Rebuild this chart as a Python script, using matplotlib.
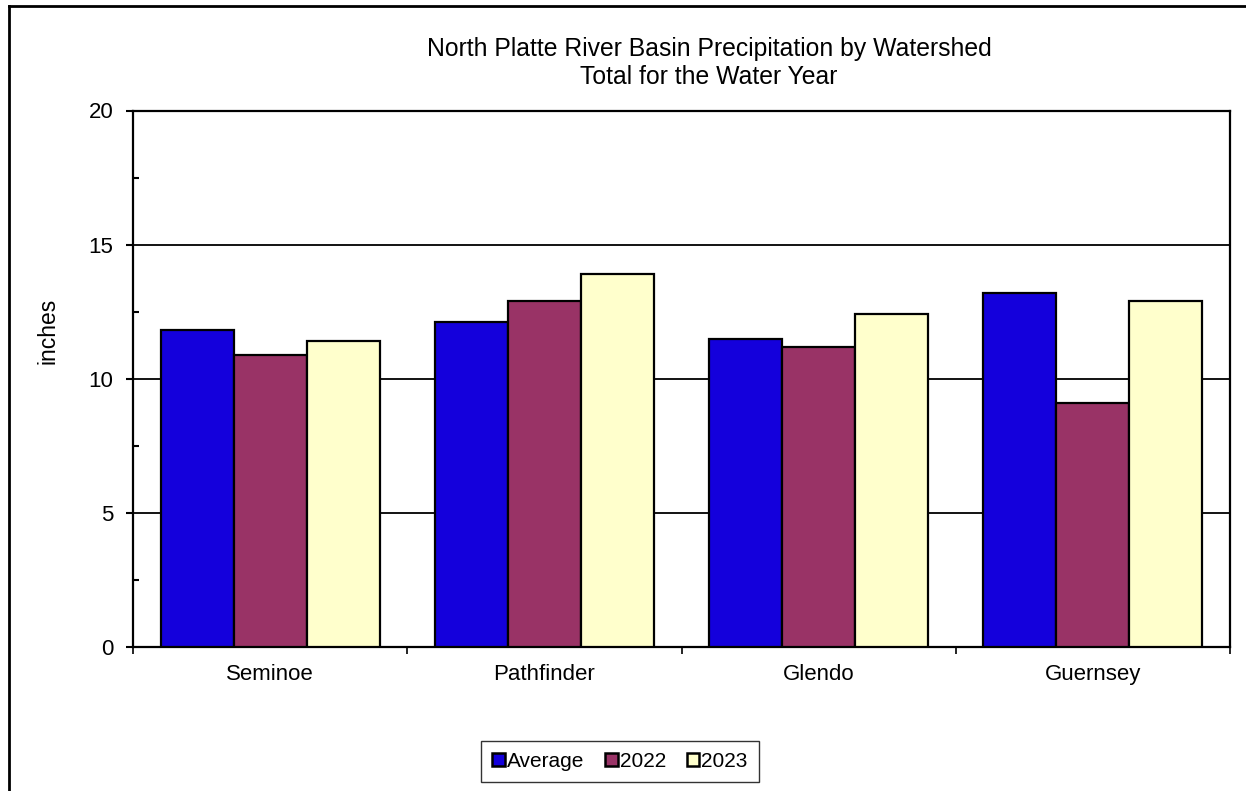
import matplotlib
matplotlib.use("Agg")
import matplotlib.pyplot as plt
import numpy as np
from matplotlib.lines import Line2D
from matplotlib.patches import Patch

plt.rcParams['font.family'] = ['Liberation Sans', 'DejaVu Sans']

categories = ["Seminoe", "Pathfinder", "Glendo", "Guernsey"]
series_names = ["Average", "2022", "2023"]
avg_vals = [11.8, 12.1, 11.5, 13.2]
y2022_vals = [10.9, 12.9, 11.2, 9.1]
y2023_vals = [11.4, 13.9, 12.4, 12.9]
y_ticks = [0, 5, 10, 15, 20]

colors = ["#1400DC", "#993366", "#FFFFCC"]

W, H = 1246, 791
fig = plt.figure(figsize=(W / 100, H / 100), dpi=100)
ax = fig.add_axes([133 / W, 1 - 647 / H, 1097 / W, 536.5 / H])

x = np.arange(len(categories))
bw = 0.266
for i, (vals, c, name) in enumerate(zip([avg_vals, y2022_vals, y2023_vals], colors, series_names)):
    ax.bar(x + (i - 1) * bw, vals, width=bw, color=c, edgecolor="black",
           linewidth=1.6, label=name, zorder=3)

ax.set_xlim(-0.5, len(categories) - 0.5)
ax.set_ylim(0, 20)
ax.set_yticks(y_ticks)
ax.set_yticklabels([str(v) for v in y_ticks])
ax.set_yticks([2.5, 7.5, 12.5, 17.5], minor=True)
ax.tick_params(axis="y", which="major", direction="out", length=5, width=1.5,
               labelsize=16, pad=9)
ax.tick_params(axis="y", which="minor", direction="in", length=4, width=1.5)

ax.set_xticks(np.arange(-0.5, len(categories), 1.0))
ax.set_xticklabels([])
ax.set_xticks(x, minor=True)
ax.set_xticklabels(categories, minor=True)
ax.tick_params(axis="x", which="major", direction="out", length=5, width=1.2)
ax.tick_params(axis="x", which="minor", length=0, labelsize=16, pad=12)

ax.grid(axis="y", which="major", color="black", linewidth=1.3, zorder=0)
for s in ax.spines.values():
    s.set_linewidth(1.6)
    s.set_color("black")

fig.text(48 / W, 1 - 331 / H, "inches", rotation=90, ha="center", va="center", fontsize=16.5)

fig.text(709 / W, 1 - 56 / H, "North Platte River Basin Precipitation by Watershed",
         ha="center", va="baseline", fontsize=17.8)
fig.text(709 / W, 1 - 84.3 / H, "Total for the Water Year",
         ha="center", va="baseline", fontsize=17.8)

handles = [Patch(facecolor=c, edgecolor="black", linewidth=1.8) for c in colors]
leg = fig.legend(handles, series_names, loc="center", bbox_to_anchor=(620 / W, 1 - 761.5 / H),
                 ncol=3, fontsize=15, frameon=True, fancybox=False, handlelength=0.6,
                 handleheight=0.6, handletextpad=0.1, columnspacing=1.0, borderpad=0.55,
                 borderaxespad=0)
leg.get_frame().set_edgecolor("black")
leg.get_frame().set_linewidth(1.0)

# outer chart-area frame (left and top edges visible)
fig.add_artist(Line2D([8.5 / W, 8.5 / W], [0, 1 - 6 / H], transform=fig.transFigure,
                      color="black", linewidth=2))
fig.add_artist(Line2D([8.5 / W, 1], [1 - 6 / H, 1 - 6 / H], transform=fig.transFigure,
                      color="black", linewidth=2))

fig.savefig("out.png", dpi=100)
